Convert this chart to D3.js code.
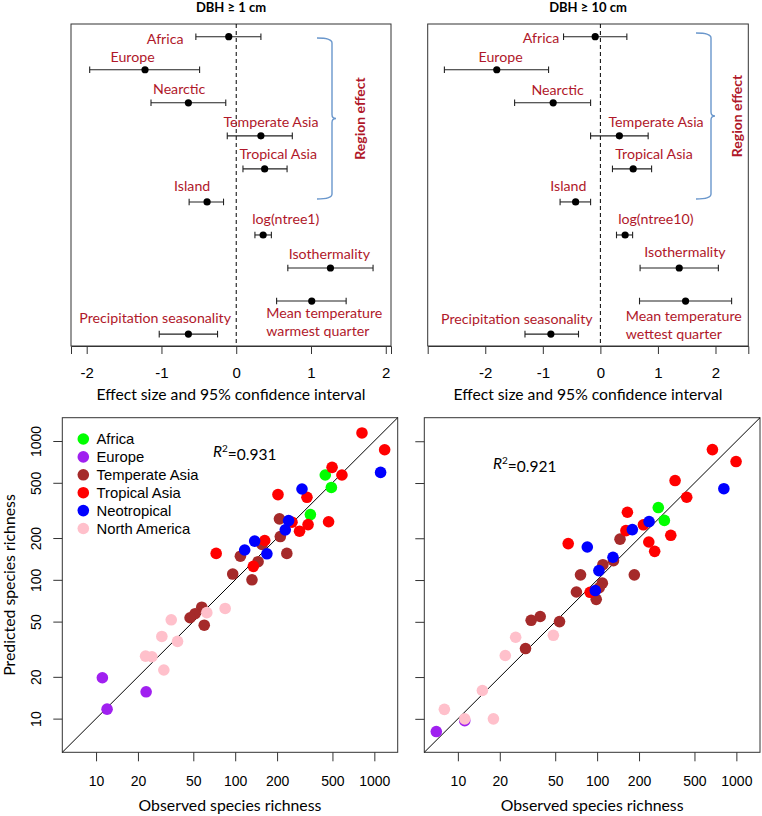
<!DOCTYPE html>
<html><head><meta charset="utf-8">
<script src="https://cdn.jsdelivr.net/npm/d3@7"></script>
<style>
body{margin:0;background:#fff;}
svg{display:block;}
</style></head>
<body><svg id="c" width="762" height="816"></svg>
<script>
// ---------- DATA ----------
const effectTerms1 = ["Africa","Europe","Nearctic","Temperate Asia","Tropical Asia","Island","log(ntree1)","Isothermality","Mean temperature|warmest quarter","Precipitation seasonality"];
const effect1 = [-0.10,-1.22,-0.64,0.33,0.38,-0.39,0.36,1.26,1.01,-0.64];
const lower1  = [-0.54,-1.96,-1.14,-0.12,0.09,-0.63,0.25,0.69,0.54,-1.03];
const upper1  = [0.33,-0.49,-0.14,0.75,0.68,-0.17,0.47,1.83,1.47,-0.25];

const effectTerms10 = ["Africa","Europe","Nearctic","Temperate Asia","Tropical Asia","Island","log(ntree10)","Isothermality","Mean temperature|wettest quarter","Precipitation seasonality"];
const effect10 = [-0.09,-1.80,-0.82,0.33,0.57,-0.43,0.43,1.37,1.48,-0.86];
const lower10  = [-0.64,-2.71,-1.49,-0.17,0.21,-0.70,0.28,0.69,0.68,-1.31];
const upper10  = [0.46,-0.90,-0.17,0.83,0.89,-0.17,0.56,2.05,2.28,-0.38];

const effectTicks = [-2,-1,0,1,2];

const regions = ["Africa","Europe","Temperate Asia","Tropical Asia","Neotropical","North America"];
const regionColors = ["#00ff00","#a020f0","#a52a2a","#ff0000","#0000ff","#ffc0cb"];

// DBH >= 1 cm: observed, predicted, region
const obs1  = [444,491,347, 11.1,22.9,12.0, 208,211,156,109,235,146,96,132,57.5,51.5,47.4,59.9, 815,1186,497,585,203,328,256,469,334,290,163,73,135, 1109,302,242,229,138,117,169, 62.5,84.7,34.7,29.7,38.5,22.7,25.2,30.7];
const pred1 = [569,463,295, 19.7,15.6,11.7, 275,205,180,148,155,135,110,100,63.5,57,53.3,47.1, 1143,865,646,569,411,393,260,262,250,224,192,155,125, 594,451,267,229,190,164,154, 58,62.2,51.5,39.1,36,28.2,27.9,22.4];
const reg1  = ["Africa","Africa","Africa","Europe","Europe","Europe",
  "Temperate Asia","Temperate Asia","Temperate Asia","Temperate Asia","Temperate Asia","Temperate Asia","Temperate Asia","Temperate Asia","Temperate Asia","Temperate Asia","Temperate Asia","Temperate Asia",
  "Tropical Asia","Tropical Asia","Tropical Asia","Tropical Asia","Tropical Asia","Tropical Asia","Tropical Asia","Tropical Asia","Tropical Asia","Tropical Asia","Tropical Asia","Tropical Asia","Tropical Asia",
  "Neotropical","Neotropical","Neotropical","Neotropical","Neotropical","Neotropical","Neotropical",
  "North America","North America","North America","North America","North America","North America","North America","North America"];

// DBH >= 10 cm
const obs10  = [275,304, 7,11.2, 146,131,110,76,185,109,103.5,71,98.5,33.6,39,53.7,30.6, 673,995,363,440,165,215,161,338,235,62,259,89, 813,236,179,85,130,103,97, 48.5,26,21.9,15,8,11.2,18];
const pred10 = [333,269, 8.1,9.7, 197,138,129,109,109,95,88,82,72.6,51.3,54.6,50.2,32.1, 871,714,521,395,308,250,227,210,188,183,161,81.6, 455,264,231,173,146,117,84, 40,38.7,28.6,16,11.7,10,10];
const reg10  = ["Africa","Africa","Europe","Europe",
  "Temperate Asia","Temperate Asia","Temperate Asia","Temperate Asia","Temperate Asia","Temperate Asia","Temperate Asia","Temperate Asia","Temperate Asia","Temperate Asia","Temperate Asia","Temperate Asia","Temperate Asia",
  "Tropical Asia","Tropical Asia","Tropical Asia","Tropical Asia","Tropical Asia","Tropical Asia","Tropical Asia","Tropical Asia","Tropical Asia","Tropical Asia","Tropical Asia","Tropical Asia",
  "Neotropical","Neotropical","Neotropical","Neotropical","Neotropical","Neotropical","Neotropical",
  "North America","North America","North America","North America","North America","North America","North America"];

const logTicks = [10,20,50,100,200,500,1000];

// ---------- LAYOUT ----------
const svg = d3.select("#c");
const labelColor = "#b0182a";
const labelFont = "Lato, 'Open Sans', sans-serif";
const numFont = "'Liberation Sans', Arial, sans-serif";

// label placement (x in data units, y offset in rows; align)
const labelPos1 = [[-0.95,0.07,"middle"],[-1.386,-0.385,"middle"],[-0.763,-0.42,"middle"],[0.465,-0.42,"middle"],[0.562,-0.44,"middle"],[-0.589,-0.47,"middle"],[0.663,-0.48,"middle"],[1.245,-0.41,"middle"],[0.402,0.36,"start"],[-1.084,-0.48,"middle"]];
const labelPos10 = [[-1.03,0.03,"middle"],[-1.733,-0.385,"middle"],[-0.743,-0.39,"middle"],[0.967,-0.42,"middle"],[0.932,-0.44,"middle"],[-0.556,-0.47,"middle"],[0.964,-0.48,"middle"],[1.47,-0.48,"middle"],[0.441,0.44,"start"],[-1.451,-0.47,"middle"]];

function effectPanel(o){
  const g = svg.append("g");
  const x = d3.scaleLinear().domain(o.xdom).range([o.x0,o.x1]);
  const y = d3.scaleLinear().domain([-0.385,9.36]).range([o.y0,o.y1]);
  g.append("text").attr("x",(o.x0+o.x1)/2).attr("y",12)
    .attr("text-anchor","middle").attr("font-family",labelFont).attr("font-weight","bold")
    .attr("font-size",13).attr("fill","#000").text(o.title);
  g.append("rect").attr("x",o.x0).attr("y",o.y0).attr("width",o.x1-o.x0).attr("height",o.y1-o.y0)
    .attr("fill","none").attr("stroke","#333").attr("stroke-width",1);
  g.append("line").attr("x1",x(0)).attr("x2",x(0)).attr("y1",o.y0).attr("y2",o.y1)
    .attr("stroke","#000").attr("stroke-width",1).attr("stroke-dasharray","4,3");
  const ax = g.append("g").attr("transform",`translate(0,${o.y1})`)
    .call(d3.axisBottom(x).tickValues(effectTicks).tickSize(8).tickPadding(13).tickFormat(d=>d));
  ax.select(".domain").attr("stroke","#333");
  ax.selectAll(".tick line").attr("stroke","#333");
  ax.selectAll("text").attr("font-family",numFont).attr("font-size",15).attr("fill","#000");
  g.append("text").attr("x",(o.x0+o.x1)/2).attr("y",400).attr("text-anchor","middle")
    .attr("font-family",labelFont).attr("font-size",15.7).attr("fill","#000")
    .text("Effect size and 95% confidence interval");
  o.eff.forEach((v,i)=>{
    const yy = y(i);
    g.append("line").attr("x1",x(o.lo[i])).attr("x2",x(o.hi[i])).attr("y1",yy).attr("y2",yy)
      .attr("stroke","#222").attr("stroke-width",1.1);
    [o.lo[i],o.hi[i]].forEach(e=>{
      g.append("line").attr("x1",x(e)).attr("x2",x(e)).attr("y1",yy-3.3).attr("y2",yy+3.3)
        .attr("stroke","#222").attr("stroke-width",1.1);
    });
    g.append("circle").attr("cx",x(v)).attr("cy",yy).attr("r",3.6).attr("fill","#000");
    const lp = o.lp[i];
    const lines = o.terms[i].split("|");
    lines.forEach((t,k)=>{
      g.append("text").attr("x",x(lp[0])).attr("y",y(i+lp[1])+k*18.5)
        .attr("dy","0.35em").attr("text-anchor",lp[2])
        .attr("font-family",labelFont).attr("font-size",14.2).attr("fill",labelColor).text(t);
    });
  });
  const bt = o.braceTop, bb = y(5)-3, bm = (bt+bb)/2, bx = o.braceX, bw = 15;
  const p = d3.path();
  p.moveTo(bx-bw, bt);
  p.quadraticCurveTo(bx, bt, bx, bt+5);
  p.lineTo(bx, bm-4);
  p.quadraticCurveTo(bx, bm, bx+4, bm);
  p.quadraticCurveTo(bx, bm, bx, bm+4);
  p.lineTo(bx, bb-5);
  p.quadraticCurveTo(bx, bb, bx-bw, bb);
  g.append("path").attr("d",p.toString()).attr("fill","none").attr("stroke","#6a97cc").attr("stroke-width",1.4);
  g.append("text").attr("transform",`translate(${o.regX},${bm}) rotate(-90)`)
    .attr("text-anchor","middle").attr("dy","0.35em")
    .attr("font-family",labelFont).attr("font-weight","bold").attr("font-size",14)
    .attr("fill",labelColor).text("Region effect");
}

effectPanel({title:"DBH ≥ 1 cm", x0:71,x1:391,y0:24,y1:346, xdom:[-2.21,2.07],
  eff:effect1, lo:lower1, hi:upper1, terms:effectTerms1, lp:labelPos1, braceX:332, braceTop:38, regX:360});
effectPanel({title:"DBH ≥ 10 cm", x0:427.7,x1:748.3,y0:24,y1:346, xdom:[-3.0,2.57],
  eff:effect10, lo:lower10, hi:upper10, terms:effectTerms10, lp:labelPos10, braceX:711, braceTop:33, regX:737});

function scatterPanel(o){
  const g = svg.append("g");
  const x = d3.scaleLog().domain(o.dom).range([o.x0,o.x1]);
  const y = d3.scaleLog().domain(o.dom).range([o.y1,o.y0]);
  g.append("rect").attr("x",o.x0).attr("y",o.y0).attr("width",o.x1-o.x0).attr("height",o.y1-o.y0)
    .attr("fill","none").attr("stroke","#333").attr("stroke-width",1);
  const ax = g.append("g").attr("transform",`translate(0,${o.y1})`)
    .call(d3.axisBottom(x).tickValues(logTicks).tickSize(9).tickPadding(15).tickFormat(d3.format("d")));
  ax.select(".domain").remove();
  ax.selectAll(".tick line").attr("stroke","#333");
  ax.selectAll("text").attr("font-family",numFont).attr("font-size",14).attr("fill","#000");
  const ay = g.append("g").attr("transform",`translate(${o.x0},0)`)
    .call(d3.axisLeft(y).tickValues(logTicks).tickSize(9).tickPadding(6).tickFormat(o.ylab?d3.format("d"):""));
  ay.select(".domain").remove();
  ay.selectAll(".tick line").attr("stroke","#333");
  ay.selectAll(".tick text").each(function(){
    d3.select(this).attr("font-family",numFont).attr("font-size",14).attr("fill","#000")
      .attr("text-anchor","middle").attr("transform","rotate(-90)").attr("x",0).attr("y",-26).attr("dy","0.35em");
  });
  const d0 = o.dom;
  g.append("line").attr("x1",x(d0[0])).attr("y1",y(d0[0])).attr("x2",x(d0[1])).attr("y2",y(d0[1]))
    .attr("stroke","#000").attr("stroke-width",1);
  regions.forEach((r,ri)=>{
    o.obs.forEach((v,i)=>{
      if(o.reg[i]!==r) return;
      g.append("circle").attr("cx",x(v)).attr("cy",y(o.pred[i])).attr("r",5.8)
        .attr("fill",regionColors[ri]);
    });
  });
  const t = g.append("text").attr("x",o.r2x).attr("y",o.r2y).attr("dy","0.35em")
    .attr("font-family",labelFont).attr("font-size",15.5).attr("fill","#000");
  t.append("tspan").attr("font-style","italic").text("R");
  t.append("tspan").attr("font-size",10).attr("dy","-0.5em").text("2");
  t.append("tspan").attr("dy","0.5em").attr("font-size",15.5).text("=" + o.r2);
  g.append("text").attr("x",(o.x0+o.x1)/2).attr("y",811).attr("text-anchor","middle")
    .attr("font-family",labelFont).attr("font-size",15.8).attr("fill","#000").text("Observed species richness");
  if(o.ylab){
    g.append("text").attr("transform",`translate(15,${(o.y0+o.y1)/2}) rotate(-90)`).attr("text-anchor","middle")
      .attr("font-family",labelFont).attr("font-size",15.8).attr("fill","#000").text("Predicted species richness");
  }
  if(o.legend){
    regions.forEach((r,i)=>{
      const yy = 439 + i*17.9;
      g.append("circle").attr("cx",83.3).attr("cy",yy).attr("r",5.8).attr("fill",regionColors[i]);
      g.append("text").attr("x",96.5).attr("y",yy).attr("dy","0.35em")
        .attr("font-family",numFont).attr("font-size",14.8).attr("fill","#000").text(r);
    });
  }
}

scatterPanel({x0:62.3,x1:397.7,y0:417.7,y1:752.3,dom:[5.72,1472],obs:obs1,pred:pred1,reg:reg1,
  ylab:true,legend:true,r2:"0.931",r2x:213,r2y:452});
scatterPanel({x0:424.3,x1:760,y0:417.7,y1:752.3,dom:[5.74,1478],obs:obs10,pred:pred10,reg:reg10,
  ylab:false,legend:false,r2:"0.921",r2x:493,r2y:464});
</script></body></html>
